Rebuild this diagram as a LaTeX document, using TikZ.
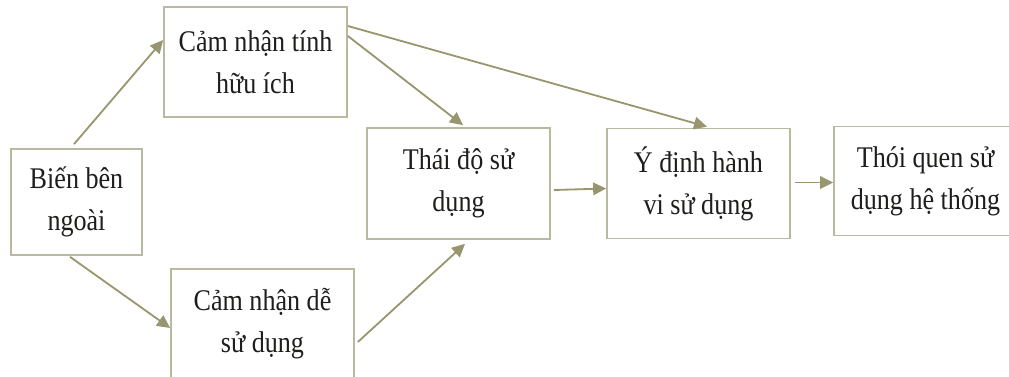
\documentclass[tikz,border=0pt]{standalone}
\usepackage{fontspec}
\setmainfont{Liberation Serif}[FakeStretch=0.87]
\usetikzlibrary{positioning, arrows.meta}
\definecolor{boxline}{RGB}{186,184,160}
\definecolor{arrowline}{RGB}{152,150,110}
\definecolor{labeltext}{RGB}{30,30,28}

\begin{document}
\begin{tikzpicture}[on grid]
    % Styles
    \tikzstyle{block} = [rectangle, draw=boxline, line width=1.7pt, fill=white, text=labeltext, align=center, minimum width=183pt, minimum height=110pt, inner sep=0pt, font=\fontsize{30}{42}\selectfont]
    \tikzstyle{line} = [draw=arrowline, line width=1.8pt, -{Triangle[length=13pt,width=12.5pt]}]

    % Frame
    \clip (0,0) rectangle (1009pt,-376pt);
    \fill [white] (0,0) rectangle (1009pt,-376pt);

    % Nodes
    \node [block, minimum width=131pt, minimum height=106pt] (outer) at (76.5pt,-202pt) {Biến bên\\ngoài};
    \node [block, above right=140pt and 179pt of outer] (useful) {Cảm nhận tính\\hữu ích};
    \node [block, below right=122pt and 186pt of outer] (easy) {Cảm nhận dễ\\sử dụng};
    \node [block, below right=121.5pt and 203pt of useful, minimum height=111pt] (attitude) {Thái độ sử\\dụng};
    \node [block, right=240pt of attitude] (intention) {Ý định hành\\vi sử dụng};
    \node [block, above right=2.5pt and 227pt of intention, minimum height=109pt] (habit) {Thói quen sử\\dụng hệ thống};

    % Connections
    \path [line] ([shift={(-2.5pt,4pt)}]outer.north) -- ([yshift=22pt]useful.west);
    \path [line] ([shift={(-6.5pt,-1pt)}]outer.south) -- ([yshift=-4pt]easy.west);
    \path [line] ([yshift=26pt]useful.east) -- ([shift={(4.5pt,2pt)}]attitude.north);
    \path [line] ([yshift=36pt]useful.east) -- ([shift={(8.5pt,1pt)}]intention.north);
    \path [line] ([shift={(3pt,-18pt)}]easy.east) -- ([shift={(6.5pt,-4pt)}]attitude.south);
    \path [line] ([shift={(3pt,-6.5pt)}]attitude.east) -- ([yshift=-5pt]intention.west);
    \path [line] ([shift={(4pt,1pt)}]intention.east) -- ([yshift=-1.5pt]habit.west);

\end{tikzpicture}
\end{document}
